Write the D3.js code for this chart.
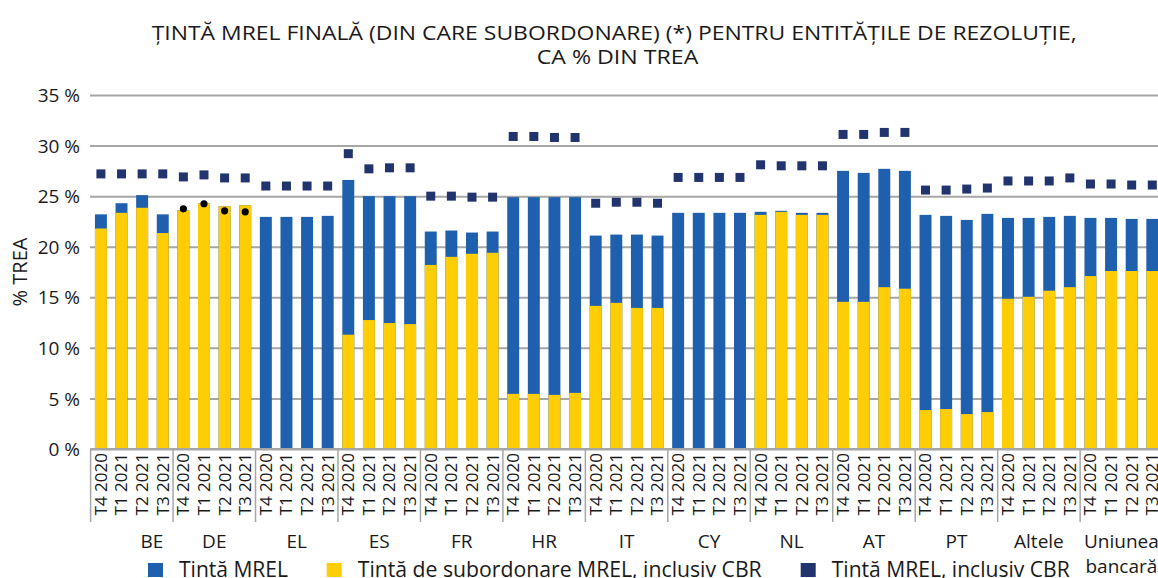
<!DOCTYPE html>
<html>
    <head>
        <meta charset="utf-8">
        <title>MREL</title>
        <script type="text/javascript" src="https://cdn.jsdelivr.net/npm/d3@7/dist/d3.min.js"></script>
        <style>
            body { margin: 0; background: #fff; }
            text { font-family: "Open Sans", "Noto Sans", sans-serif; fill: #1a1a1a; }
        </style>
    </head>
    <body>
        <svg id="svg"></svg>

        <script>
            var WIDTH = 1158;
            var HEIGHT = 578;

            var groups = ["BE", "DE", "EL", "ES", "FR", "HR", "IT", "CY", "NL", "AT", "PT", "Altele", "Uniunea bancară"];
            var quarters = ["T4 2020", "T1 2021", "T2 2021", "T3 2021"];
            var yTicks = [0, 5, 10, 15, 20, 25, 30, 35];

            // Tintă MREL (total bar height)
            var mrel = [
                23.2, 24.3, 25.1, 23.2,
                23.6, 24.3, 24.0, 24.1,
                22.95, 22.95, 22.95, 23.05,
                26.6, 25.0, 25.0, 25.0,
                21.5, 21.6, 21.4, 21.5,
                24.9, 24.9, 24.9, 24.9,
                21.1, 21.2, 21.2, 21.1,
                23.35, 23.35, 23.35, 23.35,
                23.45, 23.55, 23.35, 23.35,
                27.5, 27.3, 27.7, 27.5,
                23.15, 23.05, 22.65, 23.25,
                22.85, 22.85, 22.95, 23.05,
                22.85, 22.85, 22.75, 22.75
            ];
            // Tintă de subordonare MREL, inclusiv CBR
            var subord = [
                21.8, 23.35, 23.85, 21.35,
                23.6, 24.3, 24.0, 24.1,
                0, 0, 0, 0,
                11.3, 12.75, 12.45, 12.35,
                18.2, 19.0, 19.3, 19.4,
                5.45, 5.45, 5.35, 5.55,
                14.15, 14.45, 13.95, 13.95,
                0, 0, 0, 0,
                23.15, 23.45, 23.15, 23.15,
                14.55, 14.55, 16.0, 15.85,
                3.85, 3.95, 3.45, 3.65,
                14.85, 15.05, 15.65, 16.0,
                17.1, 17.6, 17.6, 17.6
            ];
            // Tintă MREL, inclusiv CBR
            var cbr = [
                27.2, 27.2, 27.2, 27.2,
                26.9, 27.1, 26.8, 26.8,
                26.0, 26.0, 26.0, 26.0,
                29.2, 27.7, 27.8, 27.8,
                25.0, 25.0, 24.9, 24.9,
                30.9, 30.9, 30.8, 30.8,
                24.3, 24.4, 24.4, 24.3,
                26.85, 26.85, 26.85, 26.85,
                28.1, 28.0, 28.0, 28.0,
                31.1, 31.1, 31.3, 31.3,
                25.6, 25.6, 25.7, 25.8,
                26.5, 26.5, 26.5, 26.8,
                26.2, 26.2, 26.1, 26.1
            ];
            // black dots shown on DE bars
            var deDots = [23.75, 24.25, 23.55, 23.45];

            var n = groups.length * quarters.length;
            var idx = d3.range(n);

            var svg = d3.select('#svg')
                        .attr('width', WIDTH)
                        .attr('height', HEIGHT);

            var x = d3.scaleBand()
                      .domain(idx)
                      .range([90.6, 1162.6])
                      .paddingInner(0.42)
                      .paddingOuter(0.21);
            var xg = d3.scaleBand()
                       .domain(groups)
                       .range([90.6, 1162.6]);
            var y = d3.scaleLinear()
                      .domain([0, 35])
                      .range([449, 95]);

            // title (reference is a bit stretched horizontally)
            svg.append('text')
               .attr('x', 151.7).attr('y', 40)
               .attr('font-size', '20px')
               .attr('textLength', 925)
               .attr('lengthAdjust', 'spacingAndGlyphs')
               .text('ȚINTĂ MREL FINALĂ (DIN CARE SUBORDONARE) (*) PENTRU ENTITĂȚILE DE REZOLUȚIE,');
            svg.append('text')
               .attr('x', 536.7).attr('y', 64)
               .attr('font-size', '20px')
               .attr('textLength', 161.6)
               .attr('lengthAdjust', 'spacingAndGlyphs')
               .text('CA % DIN TREA');

            // y grid + labels
            var yAxis = d3.axisLeft(y)
                          .tickValues(yTicks)
                          .tickSize(-(WIDTH - 90))
                          .tickFormat(function(d){ return d + ' %'; });
            var ya = svg.append('g')
                        .attr('transform', 'translate(90,0)')
                        .call(yAxis);
            ya.select('.domain').remove();
            ya.selectAll('line').attr('stroke', '#a6a6a6').attr('stroke-width', 2);
            ya.selectAll('text')
              .attr('x', -10)
              .attr('dy', '0.35em')
              .attr('font-size', '19px')
              .attr('fill', '#1a1a1a');

            svg.append('text')
               .attr('transform', 'translate(27,272) rotate(-90)')
               .attr('text-anchor', 'middle')
               .attr('font-size', '20px')
               .text('% TREA');

            // blue bars (MREL)
            svg.selectAll('rect.mrel')
               .data(idx)
               .enter()
               .append('rect')
               .attr('class', 'mrel')
               .attr('x', function(i){ return x(i); })
               .attr('width', x.bandwidth())
               .attr('y', function(i){ return y(mrel[i]); })
               .attr('height', function(i){ return y(0) - y(mrel[i]); })
               .attr('fill', '#1f60ae');

            // yellow bars (subordination)
            svg.selectAll('rect.sub')
               .data(idx)
               .enter()
               .append('rect')
               .attr('class', 'sub')
               .attr('x', function(i){ return x(i); })
               .attr('width', x.bandwidth())
               .attr('y', function(i){ return y(subord[i]); })
               .attr('height', function(i){ return y(0) - y(subord[i]); })
               .attr('fill', '#ffcd05');

            // CBR squares
            var SQ = 9;
            svg.selectAll('rect.cbr')
               .data(idx)
               .enter()
               .append('rect')
               .attr('class', 'cbr')
               .attr('x', function(i){ return x(i) + x.bandwidth()/2 - SQ/2; })
               .attr('y', function(i){ return y(cbr[i]) - SQ/2; })
               .attr('width', SQ)
               .attr('height', SQ)
               .attr('fill', '#22346e');

            // DE dots
            svg.selectAll('circle.dot')
               .data(deDots)
               .enter()
               .append('circle')
               .attr('class', 'dot')
               .attr('cx', function(d, k){ return x(4 + k) + x.bandwidth()/2; })
               .attr('cy', function(d){ return y(d); })
               .attr('r', 3.6)
               .attr('fill', '#000');

            // x axis line
            svg.append('line')
               .attr('x1', 90).attr('x2', WIDTH)
               .attr('y1', y(0)).attr('y2', y(0))
               .attr('stroke', '#a6a6a6').attr('stroke-width', 2);

            // group separators
            svg.selectAll('line.sep')
               .data(groups)
               .enter()
               .append('line')
               .attr('class', 'sep')
               .attr('x1', function(g){ return xg(g); })
               .attr('x2', function(g){ return xg(g); })
               .attr('y1', y(0)).attr('y2', 522)
               .attr('stroke', '#a6a6a6').attr('stroke-width', 1.5);

            // quarter labels
            svg.selectAll('text.q')
               .data(idx)
               .enter()
               .append('text')
               .attr('class', 'q')
               .attr('transform', function(i){
                   return 'translate(' + (x(i) + x.bandwidth()/2) + ',453) rotate(-90)';
               })
               .attr('dy', '0.35em')
               .attr('text-anchor', 'end')
               .attr('font-size', '17px')
               .text(function(i){ return quarters[i % quarters.length]; });

            // group labels
            var gl = svg.selectAll('text.g')
               .data(groups)
               .enter()
               .append('text')
               .attr('class', 'g')
               .attr('x', function(g, k){ return xg(g) + xg.bandwidth()/2 + (k === 0 ? 20 : 0); })
               .attr('y', 548)
               .attr('text-anchor', 'middle')
               .attr('font-size', '19px');
            gl.each(function(g){
                var parts = g.split(' ');
                var t = d3.select(this);
                var cx = t.attr('x');
                parts.forEach(function(p, k){
                    t.append('tspan').attr('x', cx).attr('dy', k === 0 ? 0 : 25).text(p);
                });
            });

            // legend
            var legend = [
                {label: 'Tintă MREL', color: '#1f60ae', x: 148, w: 109},
                {label: 'Tintă de subordonare MREL, inclusiv CBR', color: '#ffcd05', x: 326.7, w: 404},
                {label: 'Tintă MREL, inclusiv CBR', color: '#22346e', x: 800.7, w: 238}
            ];
            var lg = svg.selectAll('g.leg')
                        .data(legend)
                        .enter()
                        .append('g')
                        .attr('class', 'leg')
                        .attr('transform', function(d){ return 'translate(' + d.x + ',0)'; });
            lg.append('rect')
              .attr('x', 0).attr('y', 563)
              .attr('width', 15).attr('height', 14)
              .attr('fill', function(d){ return d.color; });
            lg.append('text')
              .attr('x', 31).attr('y', 577)
              .attr('font-size', '21px')
              .attr('textLength', function(d){ return d.w; })
              .attr('lengthAdjust', 'spacingAndGlyphs')
              .text(function(d){ return d.label; });
        </script>
    </body>
</html>
